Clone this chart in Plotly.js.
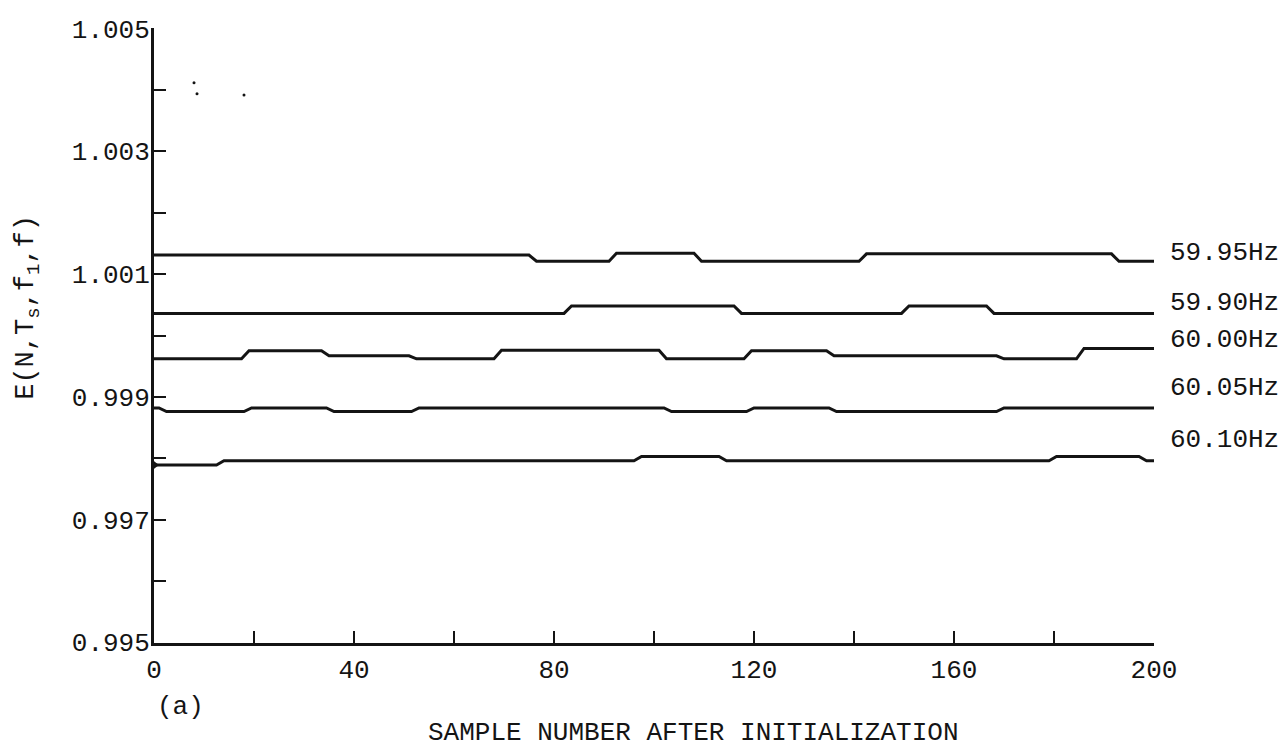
<!DOCTYPE html>
<html>
<head>
<meta charset="utf-8">
<script src="https://cdn.plot.ly/plotly-3.0.1.min.js"></script>
<style>
  html, body { margin: 0; padding: 0; background: #ffffff; }
  #chart { width: 1285px; height: 749px; }
</style>
</head>
<body>
<div id="chart"></div>
<script>
// ---- Data ----
const seriesNames = ["59.95Hz", "59.90Hz", "60.00Hz", "60.05Hz", "60.10Hz"];

const x5995 = [0, 75, 76.5, 91, 92.5, 108, 109.5, 141, 142.5, 191.5, 193, 200];
const y5995 = [1.00131, 1.00131, 1.00121, 1.00121, 1.00134, 1.00134, 1.00121, 1.00121, 1.00133, 1.00133, 1.00121, 1.00121];

const x5990 = [0, 82, 83.5, 116, 117.5, 149.5, 151, 166.5, 168, 200];
const y5990 = [1.00036, 1.00036, 1.00048, 1.00048, 1.00036, 1.00036, 1.00048, 1.00048, 1.00036, 1.00036];

const x6000 = [0, 17.5, 19, 33.5, 35, 51, 52.5, 68, 69.5, 101, 102.5, 118, 119.5, 134.5, 136, 168.5, 170, 184.5, 186, 200];
const y6000 = [0.99962, 0.99962, 0.99975, 0.99975, 0.99967, 0.99967, 0.99962, 0.99962, 0.99976, 0.99976, 0.99962, 0.99962, 0.99975, 0.99975, 0.99967, 0.99967, 0.99962, 0.99962, 0.99979, 0.99979];

const x6005 = [0, 1, 2.5, 18, 19.5, 34.5, 36, 51.5, 53, 102, 103.5, 118.5, 120, 135, 136.5, 168.5, 170, 200];
const y6005 = [0.99882, 0.99882, 0.99876, 0.99876, 0.99882, 0.99882, 0.99876, 0.99876, 0.99882, 0.99882, 0.99876, 0.99876, 0.99882, 0.99882, 0.99876, 0.99876, 0.99882, 0.99882];

const x6010 = [0, 12.5, 14, 96, 97.5, 113, 114.5, 179, 180.5, 197, 198.5, 200];
const y6010 = [0.99789, 0.99789, 0.99796, 0.99796, 0.99803, 0.99803, 0.99796, 0.99796, 0.99803, 0.99803, 0.99796, 0.99796];

// small specks visible near the top-left of the plot
const speckX = [8, 8.6, 18];
const speckY = [1.00412, 1.00394, 1.00392];

// axis ticks
const xTickVals = [0, 40, 80, 120, 160, 200];
const yTickVals = [0.995, 0.997, 0.999, 1.001, 1.003, 1.005];
const yTickText = ["0.995", "0.997", "0.999", "1.001", "1.003", "1.005"];

// ---- Layout constants ----
const FONT = "Liberation Mono, DejaVu Sans Mono, monospace";
const INK = "#141414";
const labelAnchorY = [1.00134, 1.00053, 0.99993, 0.99915, 0.99830];

const xs = [x5995, x5990, x6000, x6005, x6010];
const ys = [y5995, y5990, y6000, y6005, y6010];

const traces = seriesNames.map((n, i) => ({
  type: "scatter",
  mode: "lines",
  name: n,
  x: xs[i],
  y: ys[i],
  line: { color: INK, width: 3 },
  hoverinfo: "x+y+name"
}));

traces.push({
  type: "scatter",
  mode: "markers",
  name: "start",
  x: [x6010[0]],
  y: [y6010[0]],
  marker: { symbol: "triangle-right", size: 10, color: INK },
  cliponaxis: false,
  hoverinfo: "skip"
});

traces.push({
  type: "scatter",
  mode: "markers",
  name: "specks",
  x: speckX,
  y: speckY,
  marker: { size: 3, color: INK },
  hoverinfo: "skip"
});

const annotations = seriesNames.map((n, i) => ({
  text: n,
  xref: "x", yref: "y",
  x: 200, y: labelAnchorY[i],
  xanchor: "left", yanchor: "middle",
  xshift: 14,
  showarrow: false,
  font: { family: FONT, size: 26, color: INK }
}));

annotations.push({
  text: "SAMPLE NUMBER AFTER INITIALIZATION",
  xref: "paper", yref: "paper",
  x: 0.539, y: -0.146,
  xanchor: "center", yanchor: "middle",
  showarrow: false,
  font: { family: FONT, size: 26, color: INK }
});

annotations.push({
  text: "(a)",
  xref: "paper", yref: "paper",
  x: 0.001, y: -0.104,
  xanchor: "left", yanchor: "middle",
  showarrow: false,
  font: { family: FONT, size: 26, color: INK }
});

annotations.push({
  text: "E(N,T<sub>s</sub>,f<sub>1</sub>,f)",
  xref: "paper", yref: "paper",
  x: -0.126, y: 0.545,
  xanchor: "center", yanchor: "middle",
  textangle: -90,
  showarrow: false,
  font: { family: FONT, size: 27, color: INK }
});

const layout = {
  width: 1285,
  height: 749,
  margin: { l: 154, r: 131, t: 28, b: 106, pad: 0 },
  paper_bgcolor: "#ffffff",
  plot_bgcolor: "#ffffff",
  showlegend: false,
  font: { family: FONT, size: 26, color: INK },
  xaxis: {
    range: [0, 200],
    tickmode: "array",
    tickvals: xTickVals,
    ticks: "inside",
    ticklen: 12,
    tickwidth: 2,
    tickcolor: INK,
    showline: true,
    linewidth: 3,
    linecolor: INK,
    showgrid: false,
    zeroline: false,
    ticklabelstandoff: 1,
    tickfont: { family: FONT, size: 26, color: INK },
    minor: { tickmode: "array", tickvals: [20, 60, 100, 140, 180], ticks: "inside", ticklen: 12, tickwidth: 2, tickcolor: INK, showgrid: false }
  },
  yaxis: {
    range: [0.99499, 1.00501],
    tickmode: "array",
    tickvals: yTickVals,
    ticktext: yTickText,
    ticks: "inside",
    ticklen: 12,
    tickwidth: 2,
    tickcolor: INK,
    showline: true,
    linewidth: 3,
    linecolor: INK,
    showgrid: false,
    zeroline: false,
    ticklabelstandoff: -4,
    tickfont: { family: FONT, size: 26, color: INK },
    minor: { tickmode: "array", tickvals: [0.996, 0.998, 1.000, 1.002, 1.004], ticks: "inside", ticklen: 12, tickwidth: 2, tickcolor: INK, showgrid: false }
  },
  annotations: annotations
};

Plotly.newPlot("chart", traces, layout, { displayModeBar: false, staticPlot: true });
</script>
</body>
</html>
